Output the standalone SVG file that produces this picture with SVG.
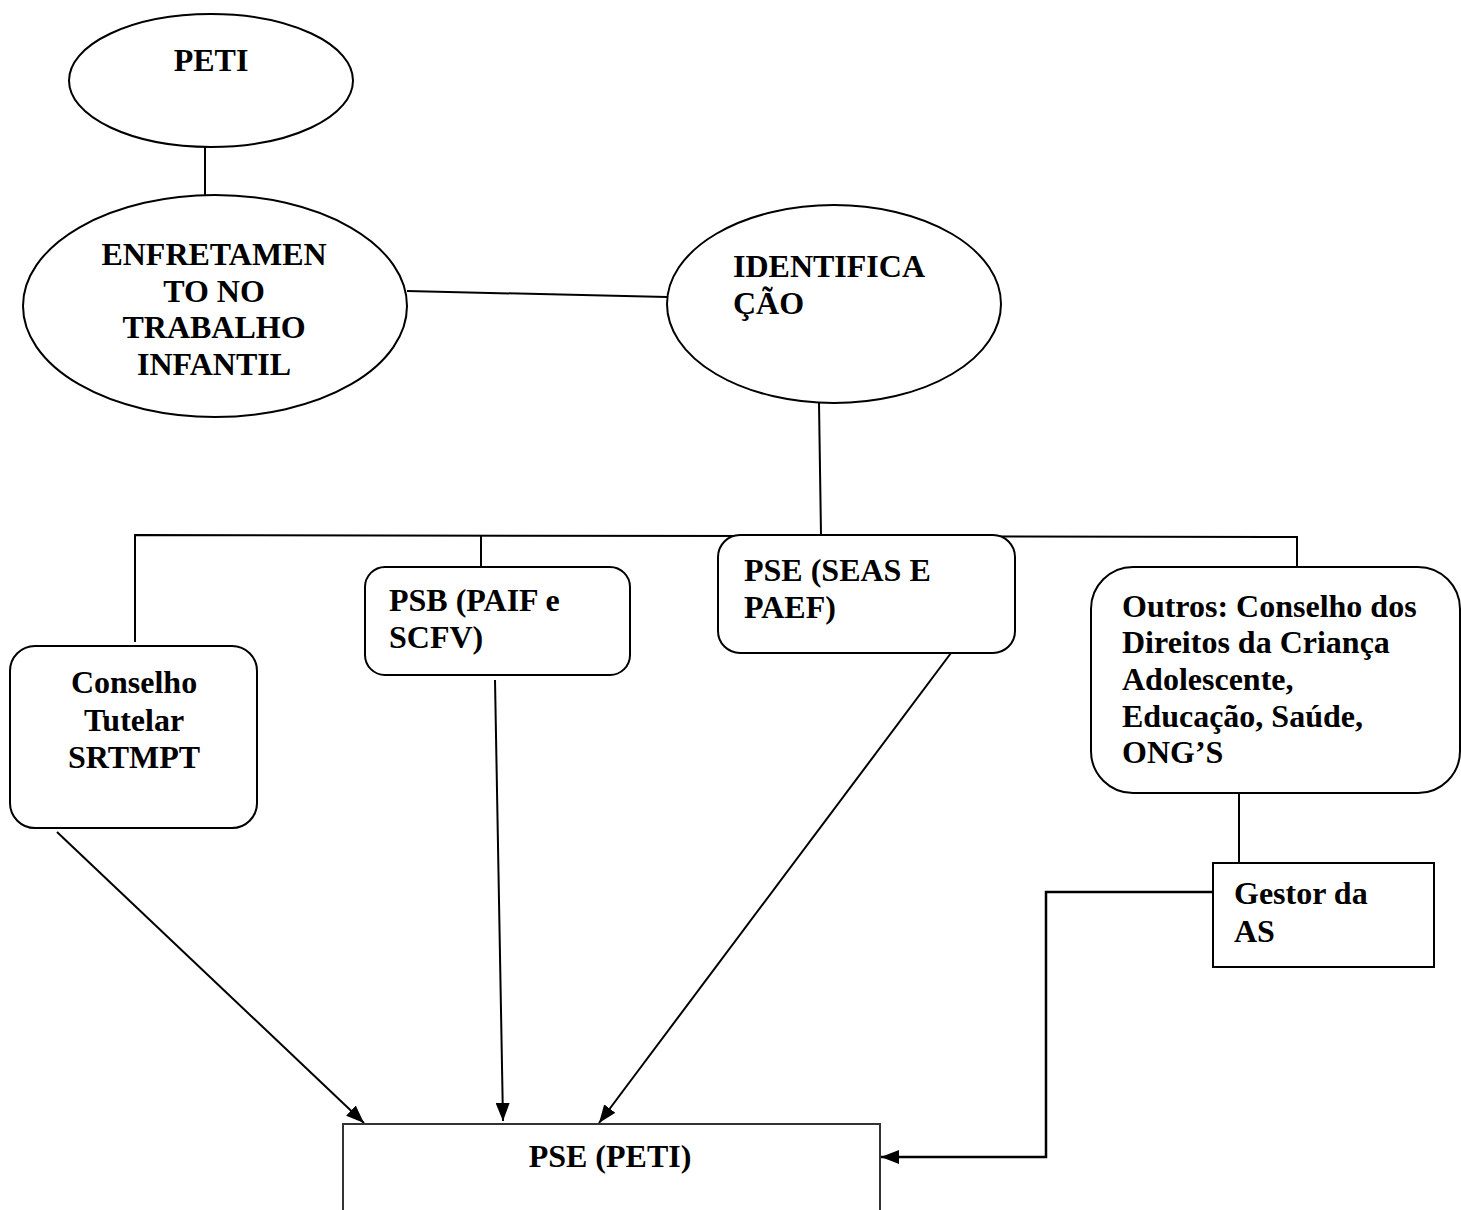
<svg xmlns="http://www.w3.org/2000/svg" width="1461" height="1210" viewBox="0 0 1461 1210">
<style>
.shape{fill:#fff;stroke:#000;stroke-width:2}
.t{font-family:"Liberation Serif","Times New Roman",serif;font-weight:bold;font-size:32px;fill:#000}
.c{text-anchor:middle}
.ln{fill:none;stroke:#000;stroke-width:2}
.arr{fill:none;stroke:#000;stroke-width:2;marker-end:url(#ah)}
</style>
<defs>
<marker id="ah" markerUnits="userSpaceOnUse" markerWidth="18" markerHeight="14" viewBox="0 0 18 14" refX="18" refY="7" orient="auto">
<path d="M0,0 L18,7 L0,14 z" fill="#000"/>
</marker>
</defs>
<rect width="1461" height="1210" fill="#fff"/>
<g id="connectors">
<line class="ln" x1="205" y1="147" x2="205" y2="195"/>
<line class="ln" x1="407" y1="291" x2="667" y2="297"/>
<line class="ln" x1="819" y1="403" x2="821" y2="535"/>
<polyline class="ln" points="135,642 135,535 1297,537 1297,567"/>
<line class="ln" x1="481" y1="535" x2="481" y2="567"/>
<line class="ln" x1="1239" y1="793" x2="1239" y2="863"/>
<line class="arr" x1="57" y1="832" x2="364" y2="1123"/>
<line class="arr" x1="495" y1="680" x2="503" y2="1121"/>
<line class="arr" x1="951" y1="653" x2="599" y2="1123"/>
<path class="arr" style="stroke-width:2.5" d="M1213,892 H1046 V1157 H881"/>
</g>
<g id="peti">
<ellipse class="shape" cx="211" cy="80.5" rx="142" ry="66.5"/>
<text class="t c" x="211" y="71">PETI</text>
</g>
<g id="enfrentamento">
<ellipse class="shape" cx="215" cy="306" rx="192" ry="111"/>
<text class="t c" x="214" y="265">ENFRETAMEN</text>
<text class="t c" x="214" y="302">TO NO</text>
<text class="t c" x="214" y="338">TRABALHO</text>
<text class="t c" x="214" y="375">INFANTIL</text>
</g>
<g id="identificacao">
<ellipse class="shape" cx="834" cy="304" rx="167" ry="99"/>
<text class="t" x="733" y="277">IDENTIFICA</text>
<text class="t" x="733" y="314">ÇÃO</text>
</g>
<g id="conselho">
<rect class="shape" x="10" y="646" width="247" height="182" rx="25" ry="25"/>
<text class="t c" x="134" y="693">Conselho</text>
<text class="t c" x="134" y="731">Tutelar</text>
<text class="t c" x="134" y="768">SRTMPT</text>
</g>
<g id="psb">
<rect class="shape" x="365" y="567" width="265" height="108" rx="20" ry="20"/>
<text class="t" x="389" y="611">PSB (PAIF e</text>
<text class="t" x="389" y="648">SCFV)</text>
</g>
<g id="pse-seas">
<rect class="shape" x="718" y="535" width="297" height="118" rx="22" ry="22"/>
<text class="t" x="744" y="581">PSE (SEAS E</text>
<text class="t" x="744" y="618">PAEF)</text>
</g>
<g id="outros">
<rect class="shape" x="1091" y="567" width="369" height="226" rx="42" ry="42"/>
<text class="t" x="1122" y="617">Outros: Conselho dos</text>
<text class="t" x="1122" y="653">Direitos da Criança</text>
<text class="t" x="1122" y="690">Adolescente,</text>
<text class="t" x="1122" y="727">Educação, Saúde,</text>
<text class="t" x="1122" y="763">ONG’S</text>
</g>
<g id="gestor">
<rect class="shape" x="1213" y="863" width="221" height="104"/>
<text class="t" x="1234" y="904">Gestor da</text>
<text class="t" x="1234" y="942">AS</text>
</g>
<g id="pse-peti">
<rect class="shape" style="stroke:#333" x="343" y="1124" width="537" height="100"/>
<text class="t c" x="610" y="1167">PSE (PETI)</text>
</g>
</svg>
